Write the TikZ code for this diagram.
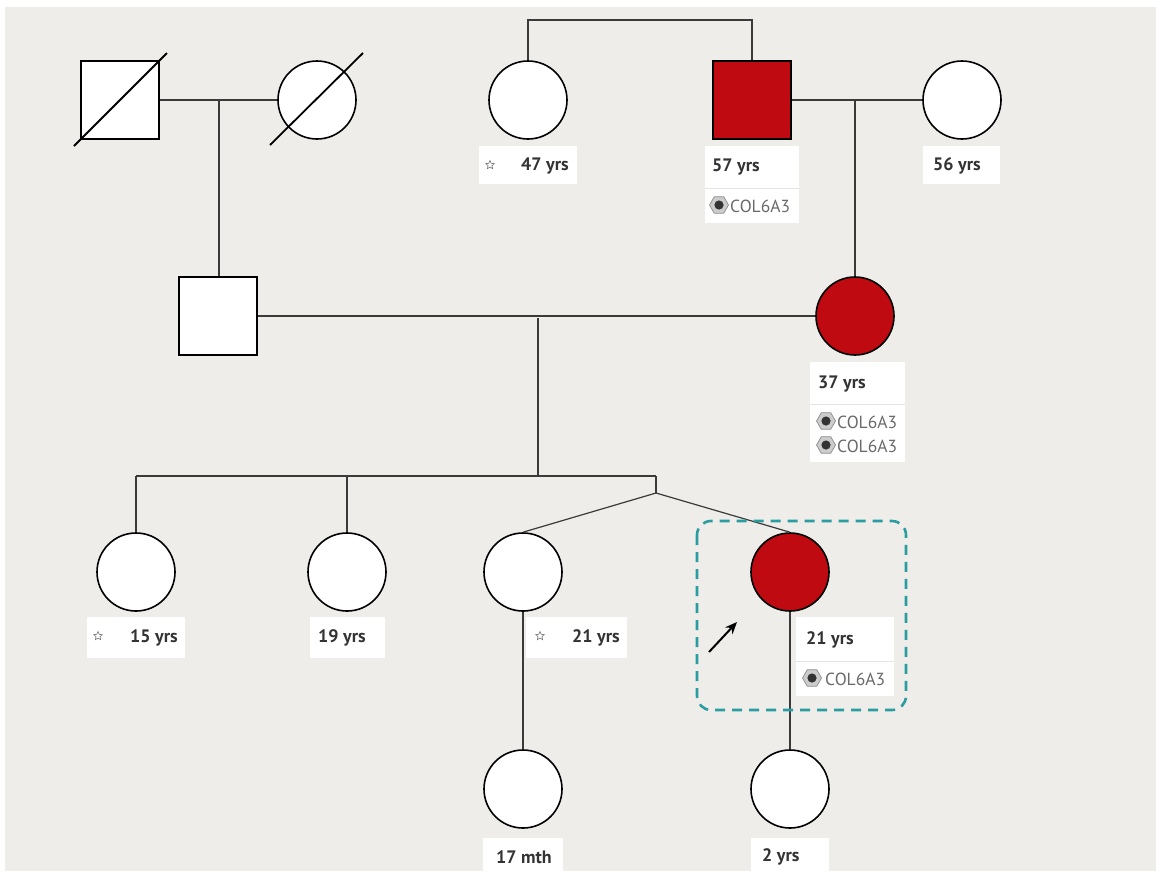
\documentclass[tikz,border=0pt]{standalone}
\usepackage{fontspec}
\setmainfont{PT Sans}
\usetikzlibrary{arrows.meta,shapes.geometric,positioning,calc}
\definecolor{paper}{HTML}{EEEDEA}
\definecolor{affred}{HTML}{BF0A12}
\definecolor{linegray}{HTML}{3A3A3A}
\definecolor{agegray}{HTML}{333333}
\definecolor{genegray}{HTML}{6A6A6A}
\definecolor{probteal}{HTML}{2A9DA0}
\definecolor{rulegray}{HTML}{E4E4E4}
\tikzset{
  person/.style={draw=black, line width=1.6pt, fill=white, inner sep=0pt, minimum size=78pt},
  male/.style={person, rectangle},
  female/.style={person, circle},
  affected/.style={fill=affred},
  rel/.style={draw=linegray, line width=1.2pt},
  deceased/.style={draw=black, line width=1.8pt},
  tagbox/.style={fill=white, draw=none, inner sep=0pt},
  age/.style={inner sep=0pt, anchor=west, font=\fontsize{18}{20}\selectfont\bfseries, text=agegray},
  genetext/.style={inner sep=0pt, anchor=west, font=\fontsize{17.5}{20}\selectfont, text=genegray},
  starmark/.style={star, star points=5, star point ratio=2.2, minimum size=9pt, inner sep=0pt, draw=black!55, fill=white, line width=0.6pt},
  gene/.pic={
    \node[regular polygon, regular polygon sides=6, minimum size=19pt, inner sep=0pt,
          draw=black!45, fill=black!20, line width=0.7pt] {};
    \fill[black!80] (0,0) circle (4.6);
  }
}
\begin{document}
\begin{tikzpicture}[x=1pt, y=-1pt]
\useasboundingbox (0,0) rectangle (1156,871);
\fill[white] (0,0) rectangle (1156,871);
\fill[paper] (5,7) rectangle (1156,871);

% ---------- generation I ----------
\node[male]   (gf)  at (120,100) {};
\node[female] (gm)  at (317,100) {};
\draw[deceased] (74,146) -- (167,53);
\draw[deceased] (270,145) -- (363,53);

\node[female] (aunt) at (528,100) {};
\node[male, affected] (ggf) at (752,100) {};
\node[female] (ggm) at (962,100) {};

% ---------- generation II ----------
\node[male] (father) at (218,316) {};
\node[female, affected] (mother) at (855,316) {};

% ---------- generation III ----------
\node[female] (s15) at (136,572) {};
\node[female] (s19) at (347,572) {};
\node[female] (s21) at (523,572) {};
\node[female, affected] (prob) at (790,572) {};

% ---------- generation IV ----------
\node[female] (c17) at (523,789) {};
\node[female] (c2)  at (790,789) {};

% ---------- relationship lines ----------
\draw[rel] (gf.east) -- (gm.west);
\coordinate (m1) at (219,100);
\draw[rel] (m1) -- (m1 |- father.north);

\coordinate (sibL) at (528,20);
\coordinate (sibR) at (752,20);
\draw[rel] (aunt.north) -- (sibL) -- (sibR) -- (ggf.north);

\draw[rel] (ggf.east) -- (ggm.west);
\coordinate (m2) at (855,100);
\draw[rel] (m2) -- (mother.north);

\draw[rel] (father.east) -- (mother.west);
\coordinate (m3) at (538,318);
\coordinate (kids) at (538,476);
\draw[rel] (m3) -- (kids);
\coordinate (kL) at (136,476);
\coordinate (kM) at (347,476);
\coordinate (kT) at (656,476);
\coordinate (twin) at (656,493);
\draw[rel] (kL) -- (kT);
\draw[rel] (kL) -- (s15.north);
\draw[rel] (kM) -- (s19.north);
\draw[rel] (kT) -- (twin);
\draw[rel] (twin) -- (s21.north);
\draw[rel] (twin) -- (prob.north);

\draw[rel] (s21.south) -- (c17.north);
\draw[rel] (prob.south) -- (c2.north);

% ---------- labels ----------
\node[tagbox, minimum width=98pt, minimum height=38pt] (b47) at (528,165) {};
\node[starmark] (st47) at (490,165) {};
\node[age] (t47) at (521,166) {47 yrs};

\node[tagbox, minimum width=94pt, minimum height=77pt] (b57) at (752,184) {};
\draw[rulegray, line width=0.8pt] (b57.west |- 0,188) -- (b57.east |- 0,188);
\node[age] (t57) at (712,167) {57 yrs};
\pic at (719,205) {gene};
\node[genetext] (g57) at (730,206) {COL6A3};

\node[tagbox, minimum width=77pt, minimum height=38pt] (b56) at (961.5,165) {};
\node[age] (t56) at (933,166) {56 yrs};

\node[tagbox, minimum width=95pt, minimum height=100pt] (b37) at (857.5,412) {};
\draw[rulegray, line width=0.8pt] (b37.west |- 0,404) -- (b37.east |- 0,404);
\node[age] (t37) at (818,384) {37 yrs};
\pic at (826,421) {gene};
\node[genetext] (g37a) at (837,422) {COL6A3};
\pic at (826,445) {gene};
\node[genetext] (g37b) at (837,446) {COL6A3};

\node[tagbox, minimum width=98pt, minimum height=41pt] (b15) at (136,637.5) {};
\node[starmark] (st15) at (98,636) {};
\node[age] (t15) at (130,638) {15 yrs};

\node[tagbox, minimum width=75pt, minimum height=41pt] (b19) at (347.5,637.5) {};
\node[age] (t19) at (318,638) {19 yrs};

\node[tagbox, minimum width=101pt, minimum height=41pt] (b21s) at (576.5,637.5) {};
\node[starmark] (st21) at (540,636) {};
\node[age] (t21s) at (572,638) {21 yrs};

\node[tagbox, minimum width=98pt, minimum height=79pt] (b21p) at (845,656.5) {};
\draw[rulegray, line width=0.8pt] (b21p.west |- 0,661) -- (b21p.east |- 0,661);
\node[age] (t21p) at (806,640) {21 yrs};
\pic at (812,678) {gene};
\node[genetext] (g21) at (825,679) {COL6A3};

\node[tagbox, minimum width=80pt, minimum height=34pt] (b17) at (523,855) {};
\node[age] (t17) at (496,857) {17 mth};

\node[tagbox, minimum width=78pt, minimum height=34pt] (b2) at (790,855) {};
\node[age] (t2) at (762,857) {2 yrs};

% ---------- proband marker ----------
\draw[probteal, line width=2.6pt, dash pattern=on 10pt off 7pt, rounded corners=14pt]
  (697,521) rectangle (906,710);
\coordinate (arrowtail) at (709,652);
\coordinate (arrowhead) at (737,622);
\draw[black, line width=2pt, -{Stealth[length=12pt,width=10pt]}] (arrowtail) -- (arrowhead);
\end{tikzpicture}
\end{document}
